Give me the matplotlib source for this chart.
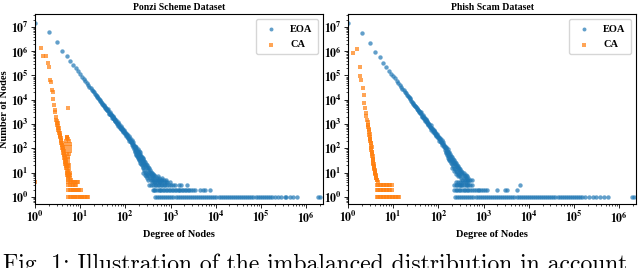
import math
import matplotlib
matplotlib.use("Agg")
import matplotlib.pyplot as plt
from matplotlib.ticker import LogLocator, FuncFormatter, NullFormatter

plt.rcParams["font.family"] = ["Liberation Serif", "DejaVu Serif"]
plt.rcParams["font.weight"] = "bold"
plt.rcParams["mathtext.fontset"] = "stix"

# ---------------- Ponzi Scheme Dataset ----------------
# EOA: power-law part (degree, number of nodes)
ponzi_eoa_deg = [1, 2, 3, 4, 5, 6, 7, 8, 9, 10, 11, 12, 13, 14, 15, 16, 17, 18, 19, 20,
                 21, 22, 23, 24, 25, 26, 27, 28, 29, 30, 31, 32, 33, 34, 35, 36, 37, 38,
                 39, 40, 42, 44, 46, 48, 50, 52, 54, 56, 58, 60, 63, 66, 69, 72, 75, 78,
                 81, 84, 87, 90, 94, 98, 102, 106, 110, 115, 120, 125, 130, 135, 140, 145]
ponzi_eoa_cnt = [1.45e7, 6.2e6, 2.3e6, 1.0e6, 6.3e5, 4.0e5, 2.8e5, 2.0e5, 1.5e5, 1.1e5,
                 8.7e4, 7.0e4, 5.8e4, 4.8e4, 4.1e4, 3.5e4, 3.0e4, 2.6e4, 2.3e4, 2.0e4,
                 1.8e4, 1.6e4, 1.43e4, 1.29e4, 1.17e4, 1.06e4, 9.6e3, 8.8e3, 8.1e3, 7.4e3,
                 6.9e3, 6.3e3, 5.9e3, 5.5e3, 5.1e3, 4.8e3, 4.5e3, 4.2e3, 3.9e3, 3.7e3,
                 3.3e3, 2.9e3, 2.6e3, 2.4e3, 2.1e3, 1.94e3, 1.77e3, 1.62e3, 1.49e3, 1.37e3,
                 1.22e3, 1.08e3, 970, 870, 790, 720, 656, 600, 550, 505, 455, 410, 372,
                 340, 310, 278, 250, 227, 206, 187, 171, 157]
ponzi_eoa_spread_deg = [41, 43, 45, 47, 49, 51, 53, 55, 57, 59, 62, 64, 67, 70, 73, 76, 79,
                        82, 85, 88, 92, 96, 100, 104, 108, 112, 117, 122, 127, 132, 137,
                        142, 147]
ponzi_eoa_spread_cnt = [4.3e3, 2.7e3, 3.2e3, 2.3e3, 2.6e3, 1.8e3, 2.1e3, 1.55e3, 1.8e3,
                        1.3e3, 1.45e3, 1.05e3, 1.25e3, 840, 1.0e3, 690, 830, 570, 700, 470,
                        560, 380, 470, 310, 390, 260, 330, 210, 270, 175, 220, 140, 185]
ponzi_eoa_tail_deg = [150, 150, 155, 155, 160, 160, 165, 165, 165, 170, 170, 175, 175, 175,
                      180, 180, 185, 185, 185, 190, 190, 195, 195, 195, 200, 200, 205, 205,
                      205, 210, 210, 210, 220, 220, 220, 230, 230, 230, 240, 240, 240, 250,
                      250, 250, 250, 260, 260, 260, 270, 270, 270, 270, 285, 285, 285, 285,
                      300, 300, 300, 300, 315, 315, 315, 315, 330, 330, 330, 350, 350, 350,
                      370, 370, 370, 390, 390, 390, 410, 410, 410, 430, 430, 460, 460, 490,
                      490, 520, 520, 560, 560, 600, 650, 650, 700, 800]
ponzi_eoa_tail_cnt = [140, 110, 125, 90, 115, 80, 100, 70, 130, 90, 60, 85, 55, 110,
                      75, 50, 70, 45, 95, 62, 40, 58, 36, 80, 52, 32, 48, 30,
                      70, 44, 26, 58, 40, 22, 50, 34, 20, 44, 30, 17, 40, 26,
                      15, 35, 10, 23, 13, 30, 20, 11, 27, 8, 17, 10, 23, 7,
                      15, 9, 20, 6, 13, 8, 17, 5, 11, 7, 15, 10, 6, 13,
                      9, 5, 11, 8, 6, 10, 7, 5, 9, 6, 8, 5, 7, 6,
                      5, 5, 7, 5, 6, 5, 5, 6, 5, 5]
# EOA: degrees that hold only a handful of nodes (count 4, 3, 2, 1)
ponzi_eoa_row4 = [380, 420, 460, 500, 540, 580, 640, 700, 780, 850, 950]
ponzi_eoa_row3 = [330, 360, 400, 440, 480, 520, 560, 600, 650, 700, 760, 820, 900, 1000,
                  1100, 1250, 1500, 1700, 2300]
ponzi_eoa_row2 = [400, 430, 460, 500, 540, 580, 620, 670, 720, 780, 840, 900, 970, 1050,
                  1130, 1220, 1320, 1420, 1530, 1650, 1780, 1920, 2070, 2240, 2420, 2610,
                  2820, 3050, 3500, 4500, 5100, 5800, 7400]
ponzi_eoa_row1 = [450, 500, 555, 615, 685, 760, 845, 935, 1040, 1150, 1280, 1420, 1580,
                  1750, 1950, 2160, 2400, 2660, 2960, 3280, 3640, 4040, 4490, 4980, 5530,
                  6140, 6810, 7560, 8390, 9320, 10300, 11500, 12800, 14200, 15700, 17500,
                  19400, 21500, 23900, 26500, 29400, 32700, 36300, 40300, 44700, 49600,
                  55100, 61100, 67800, 75300, 83600, 92800, 103000, 114000, 127000,
                  141000, 157000, 174000, 200000, 235000, 280000, 330000, 360000,
                  430000, 520000, 630000, 1800000, 2050000]

ponzi_ca_deg = [1, 1.34, 1.53, 1.73, 1.91, 2.07, 2.15, 2.22, 2.38, 2.46, 2.54, 2.63, 2.73,
                2.81, 5.46,
                2.92, 3.0, 3.1, 3.2, 3.3, 3.4, 3.5, 3.6, 3.7, 3.8, 3.9, 4.0, 4.1, 4.2, 4.3,
                4.4, 4.5, 4.6, 4.7, 4.8, 4.9, 5.0, 5.1, 5.2, 5.3, 5.4, 5.5,
                3.05, 3.25, 3.45, 3.65, 3.85, 4.05, 4.25, 4.45, 4.65, 4.85, 5.05, 5.25, 5.45,
                2.95, 3.15, 3.35, 3.55, 3.75, 3.95, 4.15, 4.35, 4.55, 4.75, 4.95, 5.15, 5.35,
                5.0, 5.2, 5.5, 5.7, 5.85, 5.9, 5.85, 5.7, 5.5, 5.3, 5.0, 4.95, 4.9, 4.9,
                4.95, 5.0,
                5.6, 5.7, 5.8, 5.9, 6.0, 5.6, 5.7, 6.2, 5.5, 5.3]
ponzi_ca_cnt = [4, 1.3e6, 6.3e5, 6.3e5, 3.4e5, 2.2e5, 6.5e4, 5.5e4, 2.5e4, 2.1e4, 1.05e4,
                6.1e3, 3.8e3, 3.2e3, 4.5e3,
                1500, 1150, 900, 700, 560, 440, 350, 280, 220, 170, 135, 105, 85, 65, 52,
                42, 34, 28, 22, 18, 15, 12, 10, 8, 7, 6, 5,
                1400, 850, 520, 330, 210, 140, 95, 60, 40, 27, 18, 12, 8,
                1900, 1100, 700, 420, 270, 170, 110, 75, 48, 32, 22, 15, 10,
                300, 280, 250, 200, 150, 110, 80, 60, 45, 35, 260, 200, 150, 110,
                80, 60,
                20, 14, 10, 8, 6, 9, 7, 5, 25, 18]
ponzi_ca_row4 = [5.5, 5.9, 6.3, 6.8, 7.3, 7.8, 8.4, 9.1]
ponzi_ca_row3 = [5.5, 6.0, 6.5, 7.0, 7.6, 8.2]
ponzi_ca_row2 = [5.5, 5.9, 6.3, 6.8, 7.3, 7.8, 8.4, 9.0, 9.6, 10.2]
ponzi_ca_row1 = [5.5, 5.9, 6.3, 6.8, 7.3, 7.8, 8.4, 9.0, 9.7, 10.4, 11.2, 12.0, 12.9,
                 13.8, 14.5]

# ---------------- Phish Scam Dataset ----------------
phish_eoa_deg = [1, 2, 3, 4, 5, 6, 7, 8, 9, 10, 11, 12, 13, 14, 15, 16, 17, 18, 19, 20,
                 21, 22, 23, 24, 25, 26, 27, 28, 29, 30, 31, 32, 33, 34, 35, 36, 37, 38,
                 39, 40, 42, 44, 46, 48, 50, 52, 54, 56, 58, 60, 63, 66, 69, 72, 75, 78,
                 81, 84, 87, 90, 94, 98, 102, 106, 110, 115, 120, 125, 130, 135]
phish_eoa_cnt = [1.5e7, 5.4e6, 2.1e6, 9.5e5, 5.6e5, 3.4e5, 2.3e5, 1.6e5, 1.2e5, 9.6e4,
                 7.5e4, 6.0e4, 4.9e4, 4.1e4, 3.4e4, 2.9e4, 2.5e4, 2.1e4, 1.9e4, 1.64e4,
                 1.45e4, 1.29e4, 1.15e4, 1.03e4, 9.3e3, 8.4e3, 7.6e3, 6.9e3, 6.3e3, 5.8e3,
                 5.4e3, 4.9e3, 4.6e3, 4.2e3, 3.9e3, 3.7e3, 3.4e3, 3.2e3, 3.0e3, 2.8e3,
                 2.5e3, 2.2e3, 1.95e3, 1.76e3, 1.58e3, 1.43e3, 1.3e3, 1.19e3, 1.08e3, 1.0e3,
                 880, 780, 700, 625, 560, 510, 460, 420, 386, 354, 317, 284, 257, 233,
                 212, 189, 170, 153, 139, 126]
phish_eoa_spread_deg = [41, 43, 45, 47, 49, 51, 53, 55, 57, 59, 62, 64, 67, 70, 73, 76, 79,
                        82, 85, 88, 92, 96, 100, 104, 108, 112, 117, 122, 127, 132]
phish_eoa_spread_cnt = [3.2e3, 2.0e3, 2.4e3, 1.6e3, 1.9e3, 1.35e3, 1.6e3, 1.1e3, 1.3e3,
                        900, 1.05e3, 740, 880, 590, 720, 480, 580, 390, 480, 320, 390, 260,
                        320, 210, 260, 175, 215, 140, 175, 115]
phish_eoa_tail_deg = [140, 140, 145, 145, 150, 150, 150, 155, 155, 160, 160, 160, 165, 165,
                      170, 170, 170, 175, 175, 180, 180, 180, 190, 190, 190, 200, 200, 200,
                      200, 210, 210, 210, 220, 220, 220, 220, 230, 230, 230, 240, 240, 240,
                      240, 255, 255, 255, 270, 270, 270, 270, 285, 285, 285, 300, 300, 300,
                      320, 320, 320, 340, 340, 340, 360, 360, 360, 380, 380, 400, 400, 430,
                      430, 460, 460, 500, 550]
phish_eoa_tail_cnt = [110, 85, 100, 70, 90, 62, 115, 80, 55, 70, 48, 90, 62, 42,
                      55, 38, 72, 50, 33, 45, 30, 60, 38, 25, 50, 33, 22, 44,
                      15, 28, 19, 38, 25, 16, 32, 12, 22, 14, 28, 19, 12, 25,
                      9, 17, 11, 21, 15, 9, 18, 7, 13, 8, 16, 11, 7, 14,
                      10, 6, 12, 9, 5, 11, 8, 6, 10, 7, 5, 6, 8, 5,
                      7, 6, 5, 5, 5]
phish_eoa_row4 = [240, 270, 300, 330, 370, 410, 450]
phish_eoa_row3 = [220, 240, 260, 280, 300, 320, 340, 370, 400, 430, 460, 500, 550, 6400]
phish_eoa_row2 = [220, 240, 260, 280, 300, 330, 360, 390, 420, 460, 500, 550, 600, 660,
                  730, 800, 880, 970, 1070, 1180, 1950, 2900, 3200, 5400]
phish_eoa_row1 = [230, 255, 285, 315, 350, 390, 430, 480, 535, 590, 660, 730, 810, 900,
                  1000, 1110, 1230, 1370, 1520, 1690, 1870, 2080, 2310, 2560, 2840, 3160,
                  3500, 3890, 4320, 4790, 5320, 5900, 6550, 7270, 8070, 8960, 9950, 11000,
                  12300, 13600, 15100, 16800, 18600, 20700, 22900, 25500, 28300, 31400,
                  34800, 38700, 42900, 47600, 52900, 58700, 65100, 72300, 80300, 89100,
                  98900, 110000, 122000, 135000, 150000, 175000, 210000, 260000, 310000,
                  380000, 460000, 550000, 1860000, 2150000]

phish_ca_deg = [1.31, 1.55, 1.85, 1.82, 1.98, 2.1, 2.2, 2.3, 2.4, 2.5, 2.62, 2.76,
                2.8, 2.9, 3.0, 3.1, 3.2, 3.3, 3.4, 3.5, 3.6, 3.7, 3.8, 3.9, 4.0, 4.1, 4.2,
                4.3, 4.5,
                2.85, 2.95, 3.05, 3.15, 3.25, 3.35, 3.45, 3.55, 3.65, 3.75, 3.85, 3.95,
                2.55, 2.7, 2.82, 2.92, 3.02, 3.12, 3.22, 3.32, 3.42, 3.52, 3.62, 3.72,
                3.82, 3.92, 4.05, 4.15, 4.25, 4.4]
phish_ca_cnt = [8.2e5, 1.2e6, 2.3e5, 9.5e4, 6.5e4, 3.0e4, 1.6e4, 7.4e3, 4.5e3, 2.8e3,
                1.5e3, 910,
                750, 480, 300, 200, 130, 85, 56, 38, 26, 18, 14, 11, 9, 7, 6, 5, 4,
                560, 370, 240, 160, 105, 70, 47, 32, 22, 16, 12, 10,
                2.2e3, 1.2e3, 900, 600, 380, 250, 165, 110, 72, 48, 33, 23,
                17, 13, 10, 8, 6, 5]
phish_ca_row3 = [4.3, 4.6, 5.0, 5.4, 5.8, 6.3, 6.8, 7.4, 8.0, 8.6, 9.2]
phish_ca_row2 = [4.3, 4.6, 5.0, 5.4, 5.8, 6.3, 6.8, 7.4, 8.0, 8.6, 9.2]
phish_ca_row1 = [4.3, 4.6, 5.0, 5.4, 5.8, 6.3, 6.8, 7.4, 8.0, 8.6, 9.2, 10, 10.8, 11.7,
                 12.7, 13.7]


def rows(row_dict):
    # (count, degrees) -> flat x/y lists
    xs, ys = [], []
    for c, degs in row_dict.items():
        xs += degs
        ys += [c] * len(degs)
    return xs, ys


def pow_fmt(v, pos):
    e = int(round(math.log10(v)))
    return r"$\mathbf{10^{%d}}$" % e


p_rx, p_ry = rows({4: ponzi_eoa_row4, 3: ponzi_eoa_row3, 2: ponzi_eoa_row2, 1: ponzi_eoa_row1})
p_cx, p_cy = rows({4: ponzi_ca_row4, 3: ponzi_ca_row3, 2: ponzi_ca_row2, 1: ponzi_ca_row1})
f_rx, f_ry = rows({4: phish_eoa_row4, 3: phish_eoa_row3, 2: phish_eoa_row2, 1: phish_eoa_row1})
f_cx, f_cy = rows({3: phish_ca_row3, 2: phish_ca_row2, 1: phish_ca_row1})

panels = [
    ("Ponzi Scheme Dataset",
     ponzi_eoa_deg + ponzi_eoa_spread_deg + ponzi_eoa_tail_deg + p_rx,
     ponzi_eoa_cnt + ponzi_eoa_spread_cnt + ponzi_eoa_tail_cnt + p_ry,
     ponzi_ca_deg + p_cx, ponzi_ca_cnt + p_cy),
    ("Phish Scam Dataset",
     phish_eoa_deg + phish_eoa_spread_deg + phish_eoa_tail_deg + f_rx,
     phish_eoa_cnt + phish_eoa_spread_cnt + phish_eoa_tail_cnt + f_ry,
     phish_ca_deg + f_cx, phish_ca_cnt + f_cy),
]

fig = plt.figure(figsize=(6.4, 2.68), dpi=100)
axes_pos = [[0.0547, 0.2388, 0.450, 0.709], [0.5438, 0.2388, 0.450, 0.709]]

for i, (title, ex, ey, cx, cy) in enumerate(panels):
    ax = fig.add_axes(axes_pos[i])
    ax.scatter(ex, ey, s=10, marker="o", color="#1f77b4", alpha=0.7, linewidths=0, label="EOA")
    ax.scatter(cx, cy, s=9, marker="s", color="#ff7f0e", alpha=0.7, linewidths=0, label="CA")
    ax.set_xscale("log")
    ax.set_yscale("log")
    ax.set_xlim(1, 2.34e6)
    ax.set_ylim(10 ** -0.29, 10 ** 7.53)
    ax.xaxis.set_major_locator(LogLocator(base=10, numticks=20))
    ax.yaxis.set_major_locator(LogLocator(base=10, numticks=20))
    ax.xaxis.set_minor_locator(LogLocator(base=10, subs=range(2, 10), numticks=20))
    ax.yaxis.set_minor_locator(LogLocator(base=10, subs=range(2, 10), numticks=20))
    ax.xaxis.set_major_formatter(FuncFormatter(pow_fmt))
    ax.yaxis.set_major_formatter(FuncFormatter(pow_fmt))
    ax.xaxis.set_minor_formatter(NullFormatter())
    ax.yaxis.set_minor_formatter(NullFormatter())
    ax.tick_params(which="major", labelsize=8.5, length=3, width=0.6, pad=1.5)
    ax.tick_params(which="minor", length=1.5, width=0.5)
    for sp in ax.spines.values():
        sp.set_linewidth(0.8)
    ax.set_title(title, fontsize=7, fontweight="bold", pad=3)
    ax.set_xlabel("Degree of Nodes", fontsize=7.5, fontweight="bold")
    ax.xaxis.set_label_coords(0.5, -0.135)
    if i == 0:
        ax.set_ylabel("Number of Nodes", fontsize=7.5, fontweight="bold")
        ax.yaxis.set_label_coords(-0.09, 0.5)
    ax.legend(loc="upper right", markerscale=0.9, handletextpad=0.8,
              borderpad=0.5, labelspacing=0.6, prop={"weight": "bold", "size": 7.5})

fig.text(0.004, -0.012, "Fig. 1: Illustration of the imbalanced distribution in account",
         family="cmr10", fontsize=17, va="baseline", ha="left", fontweight="normal")

fig.savefig("out.png", dpi=100)
